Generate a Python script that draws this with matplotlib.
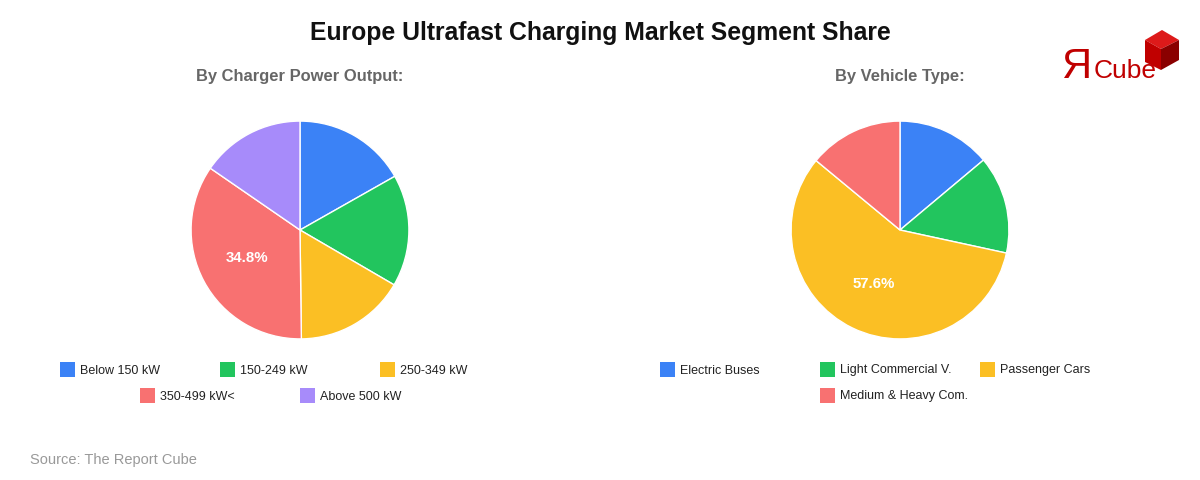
import matplotlib
matplotlib.use("Agg")
import matplotlib.pyplot as plt
from matplotlib.patches import Rectangle, Polygon

plt.rcParams['font.family'] = ['Liberation Sans', 'DejaVu Sans']

# data
power_labels = ['Below 150 kW', '150-249 kW', '250-349 kW', '350-499 kW<', 'Above 500 kW']
power_share = [16.8, 16.6, 16.4, 34.8, 15.4]
vehicle_labels = ['Electric Buses', 'Light Commercial V.', 'Passenger Cars', 'Medium & Heavy Com.']
vehicle_share = [13.9, 14.5, 57.6, 14.0]
colors = ['#3b82f6', '#22c55e', '#fbbf24', '#f87171', '#a78bfa']

W, H = 1200, 480
fig = plt.figure(figsize=(12, 4.8), dpi=100)
fig.patch.set_facecolor('white')

# overlay axes in pixel coordinates for text / legend / logo
ov = fig.add_axes([0, 0, 1, 1])
ov.set_xlim(0, W)
ov.set_ylim(H, 0)
ov.axis('off')


def draw_pie(cx, cy, r, values, title):
    ax = fig.add_axes([(cx - r) / W, (H - cy - r) / H, 2 * r / W, 2 * r / H])
    biggest = max(values)
    ax.pie(values, colors=colors[:len(values)], startangle=90, counterclock=False,
           radius=1, wedgeprops=dict(edgecolor='white', linewidth=1),
           autopct=lambda p: f'{p:.1f}%' if abs(p - biggest) < 0.5 else '',
           pctdistance=0.55,
           textprops=dict(color='white', fontsize=10.8, fontweight='bold'))
    ax.set_xlim(-1.01, 1.01)
    ax.set_ylim(-1.01, 1.01)
    ax.set_aspect('equal')
    ov.text(cx, 77, title, ha='center', va='center', fontsize=11.9,
            fontweight='bold', color='#666666')


def legend_item(x, y, color, lab):
    ov.add_patch(Rectangle((x, y - 7), 15, 15, facecolor=color, edgecolor='none'))
    ov.text(x + 20, y + 4.5, lab, ha='left', va='baseline', fontsize=9, color='#222222')


draw_pie(300, 230, 110, power_share, 'By Charger Power Output:')
draw_pie(900, 230, 110, vehicle_share, 'By Vehicle Type:')

# left legend: 3 on first row, 2 centred below
for i, lab in enumerate(power_labels):
    if i < 3:
        legend_item(60 + i * 160, 369, colors[i], lab)
    else:
        legend_item(140 + (i - 3) * 160, 395, colors[i], lab)

# right legend: 3 on first row, the 4th under the second column
for i, lab in enumerate(vehicle_labels):
    if i < 3:
        legend_item(660 + i * 160, 369, colors[i], lab)
    else:
        legend_item(820, 395, colors[i], lab)

ov.text(600, 33, 'Europe Ultrafast Charging Market Segment Share', ha='center',
        va='center', fontsize=17.8, fontweight='bold', color='#111111')
ov.text(30, 460, 'Source: The Report Cube', ha='left', va='center',
        fontsize=10.5, color='#999999')

# logo
ov.text(1061, 78, 'Я', ha='left', va='baseline', fontsize=30, color='#c00000')
ov.text(1094, 78, 'Cube', ha='left', va='baseline', fontsize=19, color='#c00000')
ov.add_patch(Polygon([(1162, 30), (1179, 40), (1161, 49), (1145, 40)],
                     closed=True, facecolor='#dd1a1a', edgecolor='none'))
ov.add_patch(Polygon([(1145, 40), (1161, 49), (1161, 70), (1145, 62)],
                     closed=True, facecolor='#c00000', edgecolor='none'))
ov.add_patch(Polygon([(1161, 49), (1179, 40), (1179, 60), (1161, 70)],
                     closed=True, facecolor='#8a0000', edgecolor='none'))

fig.savefig('out.png', dpi=100, facecolor='white')
